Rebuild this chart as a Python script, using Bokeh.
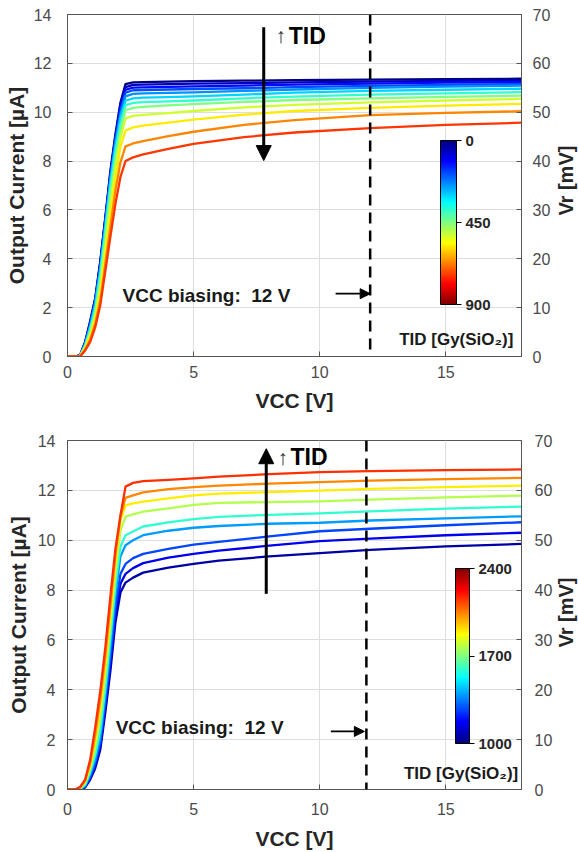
import math
from bokeh.plotting import figure
from bokeh.layouts import column
from bokeh.models import (Range1d, LinearAxis, FixedTicker, SingleIntervalTicker, ColorBar,
                          LinearColorMapper, Arrow, NormalHead, Span, Label)
from bokeh.core.properties import value
from bokeh.embed import file_html
from bokeh.resources import INLINE

# ---------------- data ----------------
VCC_TOP = [0, 0.3, 0.5, 0.7, 0.9, 1.1, 1.3, 1.5, 1.7, 1.9, 2.1, 2.3, 2.6, 3.0, 4.0, 5.0, 7.0, 9.0, 12.0, 15.0, 18.0]
TID_TOP = [0, 60, 120, 180, 240, 300, 380, 450, 520, 580, 670, 740]
I_TOP = [
    [0, 0, 0.05, 0.60, 1.45, 2.40, 3.90, 5.70, 7.60, 9.10, 10.40, 11.15, 11.22, 11.23, 11.25, 11.27, 11.29, 11.31, 11.33, 11.35, 11.37],
    [0, 0, 0.05, 0.58, 1.40, 2.35, 3.85, 5.65, 7.50, 9.00, 10.30, 11.03, 11.12, 11.13, 11.15, 11.17, 11.19, 11.22, 11.25, 11.28, 11.30],
    [0, 0, 0.05, 0.55, 1.35, 2.30, 3.80, 5.60, 7.45, 8.95, 10.20, 10.92, 11.01, 11.02, 11.04, 11.06, 11.09, 11.13, 11.17, 11.21, 11.23],
    [0, 0, 0.04, 0.52, 1.30, 2.25, 3.70, 5.50, 7.35, 8.85, 10.05, 10.80, 10.90, 10.91, 10.93, 10.95, 10.98, 11.03, 11.08, 11.12, 11.16],
    [0, 0, 0.04, 0.50, 1.25, 2.20, 3.60, 5.40, 7.25, 8.75, 9.90, 10.65, 10.75, 10.77, 10.79, 10.81, 10.87, 10.93, 11.00, 11.05, 11.09],
    [0, 0, 0.04, 0.47, 1.20, 2.10, 3.50, 5.30, 7.15, 8.60, 9.75, 10.47, 10.57, 10.60, 10.62, 10.65, 10.72, 10.80, 10.87, 10.92, 10.96],
    [0, 0, 0.03, 0.44, 1.10, 1.95, 3.30, 5.10, 6.90, 8.35, 9.50, 10.28, 10.38, 10.41, 10.44, 10.48, 10.57, 10.64, 10.72, 10.77, 10.82],
    [0, 0, 0.03, 0.40, 1.00, 1.80, 3.10, 4.85, 6.60, 8.05, 9.25, 10.08, 10.18, 10.22, 10.28, 10.33, 10.42, 10.50, 10.57, 10.63, 10.68],
    [0, 0, 0.02, 0.36, 0.90, 1.65, 2.80, 4.50, 6.20, 7.70, 8.95, 9.75, 9.85, 9.89, 9.96, 10.05, 10.20, 10.30, 10.40, 10.48, 10.55],
    [0, 0, 0.02, 0.32, 0.80, 1.50, 2.55, 4.10, 5.70, 7.30, 8.60, 9.25, 9.38, 9.45, 9.57, 9.70, 9.90, 10.05, 10.18, 10.27, 10.34],
    [0, 0, 0.01, 0.28, 0.70, 1.35, 2.30, 3.80, 5.30, 6.80, 7.95, 8.60, 8.72, 8.82, 9.02, 9.20, 9.48, 9.68, 9.88, 9.97, 10.04],
    [0, 0, 0.00, 0.25, 0.60, 1.20, 2.10, 3.50, 4.90, 6.25, 7.35, 8.00, 8.15, 8.27, 8.50, 8.70, 8.98, 9.17, 9.35, 9.48, 9.57],
]
TID_TOP_TICKS = [0, 450, 900]
BIAS_TOP = 12.0

VCC_BOT = [0, 0.3, 0.5, 0.7, 0.9, 1.1, 1.3, 1.5, 1.7, 1.9, 2.1, 2.3, 2.6, 3.0, 4.0, 5.0, 6.0, 8.0, 10.0, 12.0, 15.0, 18.0]
TID_BOT = [1050, 1150, 1270, 1390, 1590, 1770, 1900, 2040, 2160]
I_BOT = [
    [0, 0, 0.00, 0.08, 0.40, 0.85, 1.60, 3.10, 4.75, 6.70, 7.90, 8.30, 8.50, 8.70, 8.90, 9.05, 9.18, 9.35, 9.48, 9.61, 9.75, 9.85],
    [0, 0, 0.00, 0.10, 0.45, 0.95, 1.75, 3.30, 5.00, 7.00, 8.25, 8.65, 8.88, 9.08, 9.30, 9.45, 9.58, 9.78, 9.96, 10.06, 10.20, 10.30],
    [0, 0, 0.00, 0.12, 0.50, 1.05, 1.90, 3.50, 5.30, 7.30, 8.65, 9.05, 9.28, 9.45, 9.65, 9.82, 9.93, 10.15, 10.36, 10.46, 10.60, 10.72],
    [0, 0, 0.02, 0.15, 0.60, 1.20, 2.10, 3.80, 5.70, 7.80, 9.35, 9.80, 10.00, 10.20, 10.38, 10.50, 10.57, 10.66, 10.70, 10.79, 10.88, 10.96],
    [0, 0, 0.03, 0.20, 0.70, 1.40, 2.40, 4.10, 6.10, 8.20, 9.75, 10.20, 10.35, 10.55, 10.72, 10.85, 10.94, 11.02, 11.08, 11.16, 11.27, 11.35],
    [0, 0, 0.05, 0.27, 0.85, 1.70, 2.90, 4.60, 6.60, 8.70, 10.40, 10.95, 11.04, 11.15, 11.28, 11.42, 11.50, 11.53, 11.56, 11.63, 11.72, 11.79],
    [0, 0, 0.06, 0.32, 0.95, 1.95, 3.30, 5.00, 7.00, 9.10, 10.80, 11.40, 11.48, 11.55, 11.68, 11.80, 11.87, 11.93, 11.99, 12.06, 12.13, 12.19],
    [0, 0, 0.08, 0.36, 1.05, 2.20, 3.60, 5.35, 7.35, 9.40, 10.95, 11.70, 11.80, 11.92, 12.05, 12.13, 12.19, 12.27, 12.33, 12.39, 12.45, 12.50],
    [0, 0, 0.10, 0.40, 1.20, 2.50, 3.95, 5.70, 7.75, 9.65, 11.00, 12.15, 12.30, 12.37, 12.42, 12.48, 12.55, 12.65, 12.73, 12.77, 12.81, 12.84],
]
TID_BOT_TICKS = [1000, 1700, 2400]
BIAS_BOT = 11.85

X_TICKS = [0, 5, 10, 15]

FONT = "Liberation Sans"


def jet(f):
    f = min(max(f, 0.0), 1.0)
    r = min(max(min(4 * f - 1.5, -4 * f + 4.5), 0.0), 1.0)
    g = min(max(min(4 * f - 0.5, -4 * f + 3.5), 0.0), 1.0)
    b = min(max(min(4 * f + 0.5, -4 * f + 2.5), 0.0), 1.0)
    return "#%02x%02x%02x" % (round(r * 255), round(g * 255), round(b * 255))


JET = [jet(i / 255) for i in range(256)]


def style_axis(ax, standoff, label_standoff, label_size="21px"):
    ax.axis_line_color = "#555555"
    ax.major_tick_line_color = "#555555"
    ax.major_tick_in = 5
    ax.major_tick_out = 0
    ax.minor_tick_line_color = None
    ax.major_label_text_font = FONT
    ax.major_label_text_font_size = "16px"
    ax.major_label_text_color = "#4a4a4a"
    ax.major_label_standoff = standoff
    ax.axis_label_text_font = FONT
    ax.axis_label_text_font_size = label_size
    ax.axis_label_text_font_style = "bold"
    ax.axis_label_text_color = "#262626"
    ax.axis_label_standoff = label_standoff


def make_panel(height, borders, vcc, currents, tids, color_of, bias,
               cb_mapper, cb_ticks, cb_overrides, cb_loc, cb_size, stand,
               tid_xy, arr_xy, bias_txt_xy, small_arrow, unit_xy, vr_xy):
    bl, br, bt, bb = borders
    p = figure(width=578, height=height, x_range=Range1d(0, 18), y_range=Range1d(0, 14),
               output_backend="svg", toolbar_location=None,
               min_border_left=bl, min_border_right=br, min_border_top=bt, min_border_bottom=bb,
               background_fill_color="white", border_fill_color="white",
               outline_line_color="#555555", outline_line_width=1)
    p.extra_y_ranges = {"vr": Range1d(0, 70)}
    p.xaxis.ticker = FixedTicker(ticks=X_TICKS)
    p.yaxis.ticker = SingleIntervalTicker(interval=2)
    p.xaxis.axis_label = "VCC [V]"
    p.yaxis.axis_label = "Output Current [µA]"
    right = LinearAxis(y_range_name="vr", ticker=SingleIntervalTicker(interval=10))
    p.add_layout(right, "right")
    style_axis(p.xaxis[0], stand["x"][0], stand["x"][1])
    style_axis(p.yaxis[0], stand["y"][0], stand["y"][1])
    style_axis(right, stand["r"], 0)

    # right-hand axis title, in its own side panel outside the Vr tick labels
    p.add_layout(Label(x=vr_xy[0], y=vr_xy[1], x_units="screen", y_units="data",
                       text="Vr [mV]", angle=math.pi / 2, text_font=FONT,
                       text_font_size="20px", text_font_style="bold", text_color="#262626",
                       text_align="center", text_baseline="middle"), "right")

    p.xgrid.grid_line_color = "#dedede"
    p.ygrid.grid_line_color = "#dedede"

    for row, tid in zip(currents, tids):
        p.line(vcc, row, line_color=color_of(tid), line_width=2.3, line_join="round")

    p.add_layout(Span(location=bias, dimension="height", line_color="black",
                      line_width=2.5, line_dash="11 7"))

    # big TID arrow
    x0, y0, y1 = arr_xy
    p.add_layout(Arrow(end=NormalHead(size=15, fill_color="black", line_color="black"),
                       x_start=x0, y_start=y0, x_end=x0, y_end=y1,
                       line_color="black", line_width=3))
    # small bias arrow
    sx0, sx1, sy = small_arrow
    p.add_layout(Arrow(end=NormalHead(size=10, fill_color="black", line_color="black"),
                       x_start=sx0, y_start=sy, x_end=sx1, y_end=sy,
                       line_color="black", line_width=1.8))

    ax_, tx_, ty_ = tid_xy
    p.text(x=[ax_], y=[ty_], text=["↑"], text_font=value(FONT), text_font_size="21px",
           text_color="#333333", text_align="center", text_baseline="middle")
    p.text(x=[tx_], y=[ty_], text=["TID"], text_font=value(FONT), text_font_size="23px",
           text_font_style="bold", text_color="black", text_align="left", text_baseline="middle")
    p.text(x=[bias_txt_xy[0]], y=[bias_txt_xy[1]], text=["VCC biasing:\u00a0 12 V"],
           text_font=value(FONT), text_font_size="19px", text_font_style="bold",
           text_color="#1a1a1a", text_align="left", text_baseline="middle")
    p.text(x=[unit_xy[0]], y=[unit_xy[1]], text=["TID [Gy(SiO₂)]"],
           text_font=value(FONT), text_font_size="17px", text_font_style="bold",
           text_color="#1a1a1a", text_align="right", text_baseline="middle")

    cb = ColorBar(color_mapper=cb_mapper, ticker=FixedTicker(ticks=cb_ticks),
                  major_label_overrides=cb_overrides,
                  width=cb_size[0], height=cb_size[1], location=cb_loc,
                  padding=0, margin=0, orientation="vertical",
                  bar_line_color="black", bar_line_width=1,
                  border_line_color=None, background_fill_alpha=0,
                  major_tick_line_color="black", major_tick_in=0, major_tick_out=5,
                  minor_tick_line_color=None, label_standoff=4,
                  major_label_text_font=FONT, major_label_text_font_size="15px",
                  major_label_text_font_style="bold", major_label_text_color="#262626")
    p.add_layout(cb)
    return p


# top colour bar: 0 Gy at the top (blue), 900 Gy at the bottom (dark red)
TOP_MAX = TID_TOP_TICKS[-1]
mapper_top = LinearColorMapper(palette=JET[::-1], low=TID_TOP_TICKS[0], high=TOP_MAX)
p1 = make_panel(
    420, (67, 57, 14, 64), VCC_TOP, I_TOP, TID_TOP, lambda t: jet(t / TOP_MAX), BIAS_TOP,
    mapper_top, TID_TOP_TICKS, {t: str(TOP_MAX - t) for t in TID_TOP_TICKS},
    (373, 52), (16, 164),
    {"x": (9, 8), "y": (12, 3), "r": 7},
    (8.45, 8.77, 13.12), (7.78, 13.48, 8.02), (2.18, 2.5), (10.63, 12.0, 2.57), (17.68, 0.7),
    (12, 7.2))

mapper_bot = LinearColorMapper(palette=JET, low=TID_BOT_TICKS[0], high=TID_BOT_TICKS[-1])
p2 = make_panel(
    432, (61, 55, 20, 63), VCC_BOT, I_BOT, TID_BOT,
    lambda t: jet((t - TID_BOT_TICKS[0]) / (TID_BOT_TICKS[-1] - TID_BOT_TICKS[0])), BIAS_BOT,
    mapper_bot, TID_BOT_TICKS, {t: str(t) for t in TID_BOT_TICKS},
    (388, 46), (14, 175),
    {"x": (13, 9), "y": (8, 5), "r": 9},
    (8.53, 8.84, 13.33), (7.88, 7.85, 13.67), (1.91, 2.47), (10.44, 11.77, 2.33), (17.87, 0.66),
    (10, 7.1))

layout = column(p1, p2, spacing=0)
open("out.html", "w").write(file_html(layout, INLINE))
